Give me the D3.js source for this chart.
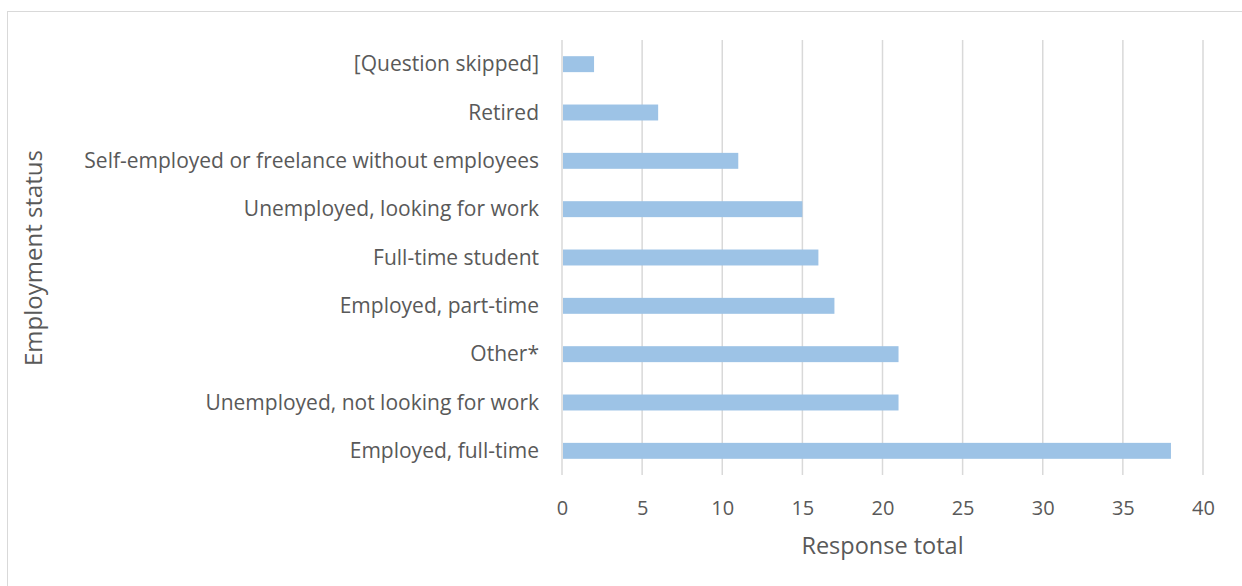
<!DOCTYPE html>
<html><head><meta charset="utf-8">
<script src="https://cdn.jsdelivr.net/npm/d3@7"></script>
<style>
html,body{margin:0;padding:0;background:#fff;}
svg{display:block;}
text{font-family:"Open Sans","Noto Sans",sans-serif;fill:#595959;}
</style></head>
<body>
<svg id="chart" width="1242" height="586"></svg>
<script>
const categories = ["[Question skipped]","Retired","Self-employed or freelance without employees","Unemployed, looking for work","Full-time student","Employed, part-time","Other*","Unemployed, not looking for work","Employed, full-time"];
const values = [2,6,11,15,16,17,21,21,38];
const xTicks = [0,5,10,15,20,25,30,35,40];
const xTitle = "Response total";
const yTitle = "Employment status";

(function(){
const svg = d3.select("#chart");
svg.append("rect").attr("x",7.5).attr("y",11.5).attr("width",1260).attr("height",600)
  .attr("fill","#fff").attr("stroke","#d9d9d9").attr("stroke-width",1);

const pL=562, pR=1203, pT=40, pB=475;
const x = d3.scaleLinear().domain([0,40]).range([pL,pR]);
const y = d3.scaleBand().domain(categories).range([pT,pB]).paddingInner(0.67).paddingOuter(0.335);

const g = svg.append("g");
g.selectAll("line.grid").data(xTicks).join("line").attr("class","grid")
  .attr("x1",d=>x(d)).attr("x2",d=>x(d)).attr("y1",pT).attr("y2",pB)
  .attr("stroke","#d9d9d9").attr("stroke-width",1.5);

g.selectAll("rect.bar").data(values).join("rect").attr("class","bar")
  .attr("x",x(0)+1).attr("y",(d,i)=>y(categories[i]))
  .attr("width",d=>x(d)-x(0)-1).attr("height",y.bandwidth())
  .attr("fill","#9dc3e6");

const xAxis = d3.axisBottom(x).tickValues(xTicks).tickSize(0).tickPadding(0);
const xa = svg.append("g").attr("transform",`translate(0,${pB+40})`).call(xAxis);
xa.select(".domain").remove();
xa.selectAll("text").style("font-size","20px").attr("dy","0").style("fill","#595959").style("font-family","'Open Sans',sans-serif");

const yAxis = d3.axisLeft(y).tickSize(0).tickPadding(0);
const ya = svg.append("g").attr("transform",`translate(${pL-23},0)`).call(yAxis);
ya.select(".domain").remove();
ya.selectAll("text").style("font-size","21px").attr("dy","0.34em").style("fill","#595959").style("font-family","'Open Sans',sans-serif");

svg.append("text").attr("x",(pL+pR)/2).attr("y",554).attr("text-anchor","middle")
  .style("font-size","23.5px").text(xTitle);
svg.append("text").attr("transform","translate(42,258) rotate(-90)").attr("text-anchor","middle")
  .style("font-size","24px").text(yTitle);
})();
</script>
</body></html>
